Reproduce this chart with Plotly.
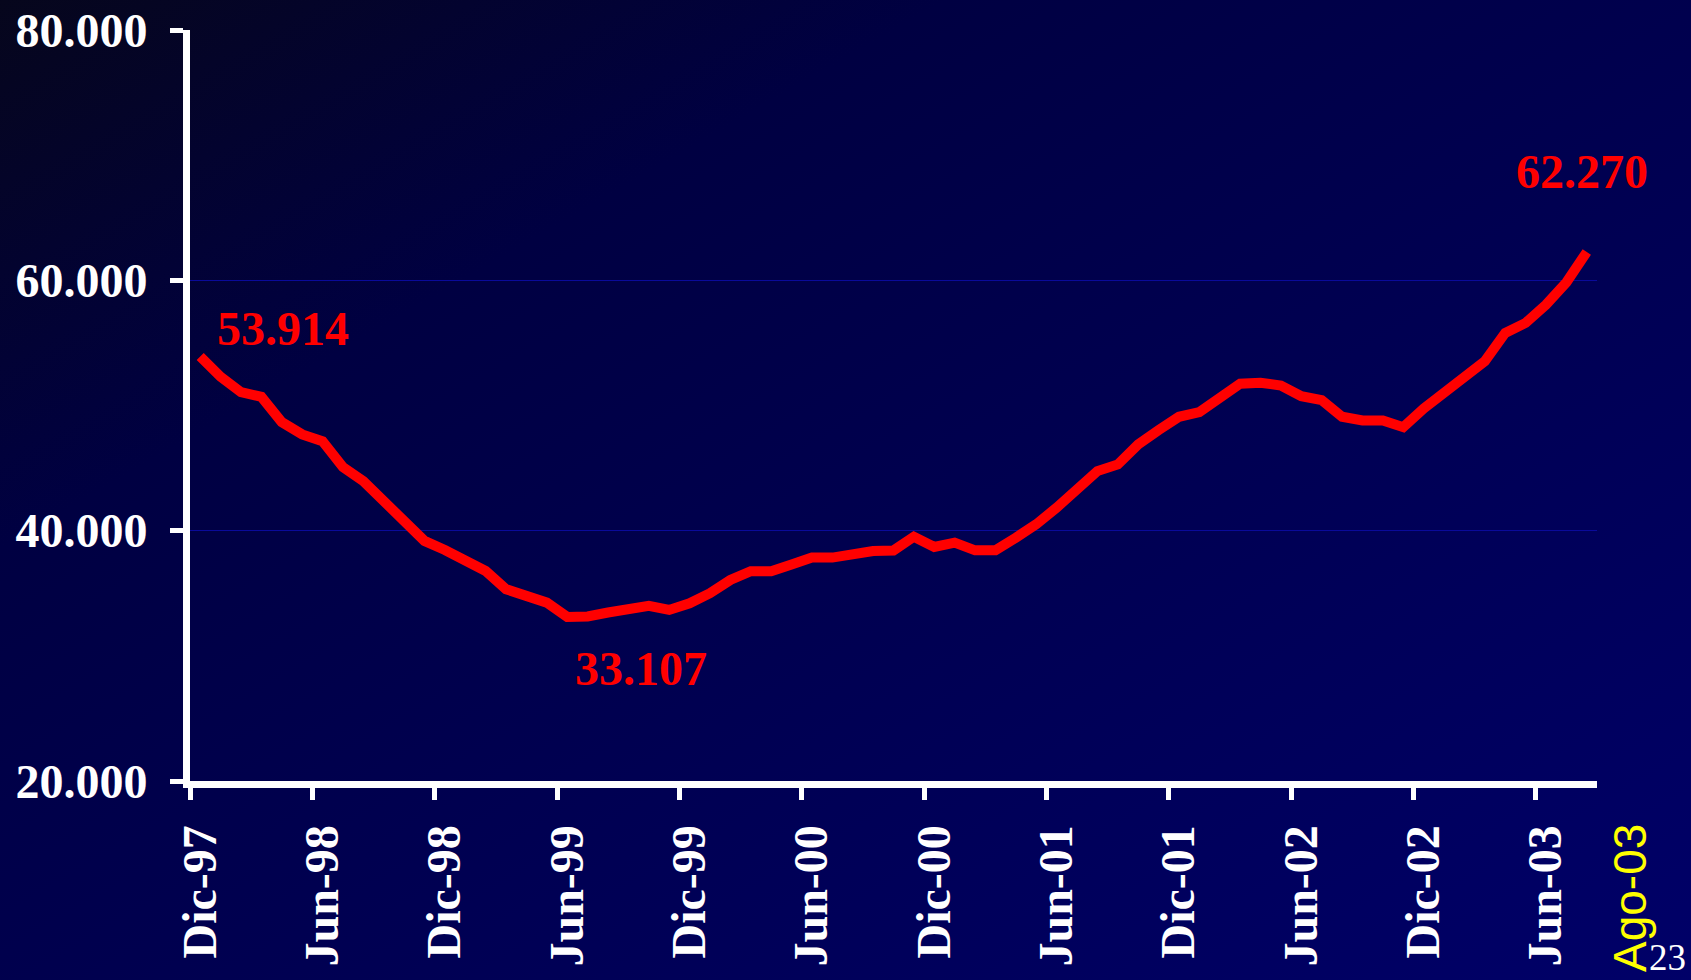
import base64
import plotly.graph_objects as go

# Monthly series, Dic-97 .. Ago-03
meses = ["Ene", "Feb", "Mar", "Abr", "May", "Jun", "Jul", "Ago", "Sep", "Oct", "Nov", "Dic"]
periodos = ["Dic-97"] + [f"{m}-{a % 100:02d}" for a in range(98, 104) for m in meses][:68]

valores = [
    53914, 52290, 51060, 50690, 48670, 47690, 47150, 45080, 43960, 42370,
    40510, 39180, 38460, 37710, 36780, 35320, 34740, 34250, 33107, 33150,
    33460, 33720, 33990, 33670, 34200, 35000, 36060, 36760, 36760, 37290,
    37850, 37850, 38170, 38380, 38420, 39520, 38700, 39040, 38430, 38430,
    39440, 40510, 41840, 43430, 44760, 45290, 46890, 48030, 49100, 49470,
    50530, 51740, 51810, 51600, 50750, 50430, 49100, 48800, 48800, 48270,
    49760, 51060, 52150, 53540, 55800, 56600, 58060, 59840, 62270,
]

etiquetas_x = ["Dic-97", "Jun-98", "Dic-98", "Jun-99", "Dic-99", "Jun-00",
               "Dic-00", "Jun-01", "Dic-01", "Jun-02", "Dic-02", "Jun-03"]
ticks_y = [20000, 40000, 60000, 80000]

x = list(range(len(valores)))
pos_etiquetas = [periodos.index(e) for e in etiquetas_x]

W, H = 1691, 980
L, R, T, B = 190, 94, 30, 199
PW, PH = W - L - R, H - T - B

serif = "Liberation Serif, Times New Roman, serif"

def fmt(v):
    return f"{v:,}".replace(",", ".")

fig = go.Figure()
fig.add_trace(go.Scatter(
    x=x, y=valores, mode="lines",
    line=dict(color="#ff0000", width=10),
    customdata=periodos, hovertemplate="%{customdata}: %{y:,}<extra></extra>",
))

# labelled points: first, minimum, last
i_min = valores.index(min(valores))
destacados = [(0, 83, 28), (i_min, 74, -52), (len(valores) - 1, -5, 80)]
for i, dx, dy in destacados:
    fig.add_annotation(
        x=i, y=valores[i], xref="x", yref="y", text=fmt(valores[i]),
        showarrow=False, xshift=dx, yshift=dy,
        font=dict(family=serif, size=48, color="#ff0000", weight="bold"),
    )

# final month marker and page number
fig.add_annotation(
    x=(1630 - L) / PW, y=-(822 - T - PH) / PH, xref="paper", yref="paper",
    text="Ago-03", textangle=-90, showarrow=False, xanchor="center", yanchor="top",
    font=dict(family="Liberation Sans, Arial, sans-serif", size=46, color="#ffff00"),
)
fig.add_annotation(
    x=(1667 - L) / PW, y=-(957 - T - PH) / PH, xref="paper", yref="paper",
    text="23", showarrow=False, xanchor="center", yanchor="middle",
    font=dict(family=serif, size=37, color="#ffffff"),
)

svg = (
    f"<svg xmlns='http://www.w3.org/2000/svg' width='{W}' height='{H}' viewBox='0 0 {W} {H}' "
    "preserveAspectRatio='none'><defs><linearGradient id='g' x1='0' y1='0' x2='1' y2='1'>"
    "<stop offset='0' stop-color='#06061c'/><stop offset='0.28' stop-color='#000042'/>"
    "<stop offset='1' stop-color='#000068'/></linearGradient></defs>"
    f"<rect width='{W}' height='{H}' fill='url(#g)'/></svg>"
)
fondo = "data:image/svg+xml;base64," + base64.b64encode(svg.encode()).decode()

fig.update_layout(
    width=W, height=H,
    margin=dict(l=L, r=R, t=T, b=B, autoexpand=False),
    paper_bgcolor="#000048", plot_bgcolor="rgba(0,0,0,0)",
    showlegend=False,
    separators=",.",
    images=[dict(
        source=fondo, xref="paper", yref="paper",
        x=-L / PW, y=1 + T / PH, sizex=W / PW, sizey=H / PH,
        xanchor="left", yanchor="top", sizing="stretch", layer="below",
    )],
    xaxis=dict(
        range=[-0.5, len(valores) - 0.5], automargin=False,
        tickmode="array", tickvals=[p - 0.5 for p in pos_etiquetas], ticktext=etiquetas_x,
        tickangle=-90, ticks="outside", ticklen=12, tickwidth=5, tickcolor="#ffffff",
        ticklabelshift=10, ticklabelstandoff=6,
        tickfont=dict(family=serif, size=48, color="#ffffff", weight="bold"),
        showline=True, linecolor="#ffffff", linewidth=7,
        showgrid=False, zeroline=False, fixedrange=True,
    ),
    yaxis=dict(
        range=[20000, 80000], automargin=False,
        tickmode="array", tickvals=ticks_y, ticktext=[fmt(v) for v in ticks_y],
        ticks="outside", ticklen=13, tickwidth=5, tickcolor="#ffffff",
        ticklabelstandoff=13,
        tickfont=dict(family=serif, size=48, color="#ffffff", weight="bold"),
        showline=True, linecolor="#ffffff", linewidth=7,
        showgrid=True, gridcolor="#0a0a9a", gridwidth=1.2,
        zeroline=False, fixedrange=True,
    ),
)

fig.write_html("out.html", config={"displayModeBar": False})
